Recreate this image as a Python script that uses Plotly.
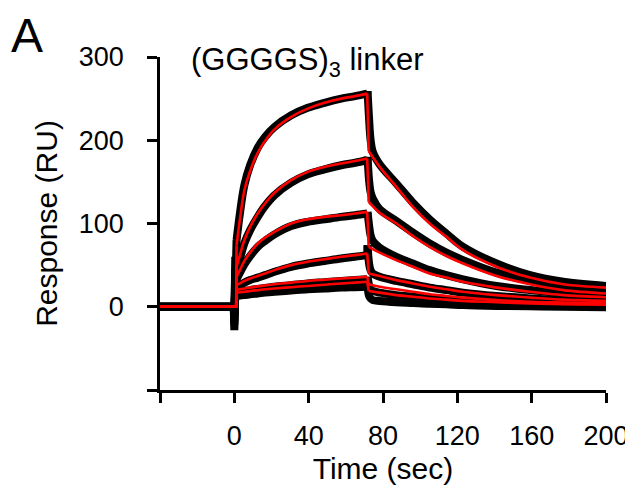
import plotly.graph_objects as go

# ---------------- data ----------------
ASSOC_T = [1.2, 3, 5.4, 8.5, 12.6, 16.5, 21.6, 30.6, 39.5, 48.5, 57.5, 65, 71.5]
FIT_DISS_T = [72.3, 78.2, 87.2, 96.1, 105.1, 114.1, 123.1, 141.1, 159.1, 177, 200]
DATA_DISS_T = [71.7, 72.5, 73.3, 74.5, 78.2, 87.2, 96.1, 105.1, 114.1, 123.1, 141.1, 159.1, 177, 200]

# red fitted curves
fit_assoc = {
    "c1": [74, 105, 140, 163, 185, 199, 213, 228, 238, 245, 250, 253, 256],
    "c2": [48, 62, 80, 96, 112, 124, 137, 152, 162, 168, 172, 175, 178],
    "c3": [36, 44, 55, 65, 76, 83, 90, 100, 105, 108, 110, 112, 114],
    "c4": [26, 28, 31, 34, 37, 40, 44, 50, 54, 57, 60, 62, 64],
    "c5": [20, 21, 22, 23, 24.5, 25.5, 27, 29, 31, 32.5, 34, 35, 36],
    "c6": [17, 17.5, 18, 19, 20, 21, 22, 23.5, 25, 26.5, 28, 29, 30],
}
fit_diss = {
    "c1": [187, 168, 144, 120, 100, 84, 68, 48, 35, 27, 23],
    "c2": [126, 113, 100, 85, 72, 61, 52, 37, 27, 20, 16],
    "c3": [72, 65, 56, 48, 40, 35, 30, 23, 18, 14, 11.5],
    "c4": [40, 37, 32, 28, 24, 21, 18, 14, 11, 8.5, 7],
    "c5": [27, 24, 21, 18, 15, 13, 11, 8, 6, 5, 4],
    "c6": [19, 17, 14, 12, 10, 8.5, 7, 5.5, 4, 3, 2.5],
}

# black measured sensorgrams
data_spike = {  # injection artefact at t = 0: (low, high)
    "c1": [-28, 76], "c2": [-22, 60], "c3": [-18, 45],
    "c4": [-12, 30], "c5": [-10, 24], "c6": [-8, 20],
}
data_assoc = {
    "c1": [80, 112, 146, 170, 191, 204, 216, 230, 239, 245, 250, 253, 256],
    "c2": [45, 58, 76, 92, 108, 121, 134, 149, 159, 165, 170, 173, 176],
    "c3": [33, 41, 51, 61, 72, 79, 87, 97, 102, 105, 108, 110, 112],
    "c4": [24, 26, 29, 32, 35, 38, 42, 48, 52, 55, 58, 60, 62],
    "c5": [17, 18, 19, 20, 21.5, 22.5, 24, 26, 28, 29.5, 31, 32, 33],
    "c6": [13, 13.5, 14, 15, 16, 17, 18, 19.5, 21, 22, 23, 23.5, 24],
}
data_diss = {
    "c1": [259, 226, 201, 186, 171, 148, 125, 105, 88, 72, 52, 38, 30, 25],
    "c2": [180, 152, 138, 130, 117, 103, 89, 76, 65, 56, 41, 31, 24, 19],
    "c3": [114, 98, 86, 79, 71, 60, 52, 44, 38, 33, 25, 20, 16, 13],
    "c4": [74, 52, 44, 40, 36, 31, 27, 23, 20, 17, 13, 10, 8, 6],
    "c5": [36, 26, 21, 19, 17, 14, 12, 10, 8.5, 7, 5, 4, 3, 2],
    "c6": [24, 13, 10, 8, 7, 5.5, 4.5, 3.5, 3, 2, 1, 0.5, 0, -0.5],
}

X_TICKS = [0, 40, 80, 120, 160, 200]
X_MINOR_TICKS = [-40]          # unlabelled tick at the left end
Y_TICKS = [0, 100, 200, 300]
Y_MINOR_TICKS = [-100]         # unlabelled tick at the bottom end

CURVES = ["c1", "c2", "c3", "c4", "c5", "c6"]

# ---------------- figure ----------------
fig = go.Figure()
BLACK = dict(color="black", width=8)
RED = dict(color="#ff0000", width=2.6)


def seg(x, y, line, shape="linear"):
    fig.add_trace(go.Scatter(x=x, y=y, mode="lines",
                             line=dict(**line, shape=shape),
                             showlegend=False, hoverinfo="skip", cliponaxis=False))


# measured data (black, drawn underneath)
for c in CURVES:
    lo, hi = data_spike[c]
    seg([-40, -0.3, 0, 0.5, ASSOC_T[0]], [0, 0, lo, hi, data_assoc[c][0]], BLACK)
    seg(ASSOC_T, data_assoc[c], BLACK, "spline")
    seg([ASSOC_T[-1], DATA_DISS_T[0]], [data_assoc[c][-1], data_diss[c][0]], BLACK)
    seg(DATA_DISS_T, data_diss[c], BLACK, "spline")

# fitted curves (red, on top)
for c in CURVES:
    seg([-40, 1.0, ASSOC_T[0]], [0, 0, fit_assoc[c][0]], RED)
    seg(ASSOC_T, fit_assoc[c], RED, "spline")
    seg([ASSOC_T[-1], FIT_DISS_T[0]], [fit_assoc[c][-1], fit_diss[c][0]], RED)
    seg(FIT_DISS_T, fit_diss[c], RED, "spline")

FONT = "Arial, 'Liberation Sans', sans-serif"
TICKSTYLE = dict(ticks="outside", ticklen=10, tickwidth=2.5, tickcolor="black")

# the page adds an 8px body margin, so margins are reduced by 8 on left/top
fig.update_layout(
    width=633, height=496,
    margin=dict(l=152, r=35, t=49, b=114),
    paper_bgcolor="white", plot_bgcolor="white",
    font=dict(family=FONT, color="black", size=27),
    showlegend=False,
    xaxis=dict(
        range=[-40, 200], tickmode="array", tickvals=X_TICKS,
        **TICKSTYLE,
        minor=dict(tickmode="array", tickvals=X_MINOR_TICKS, **TICKSTYLE, showgrid=False),
        showline=True, linecolor="black", linewidth=2.5,
        showgrid=False, zeroline=False, ticklabelstandoff=10, automargin=False,
        tickfont=dict(size=27),
        title=dict(text="Time (sec)", font=dict(size=30), standoff=8),
    ),
    yaxis=dict(
        range=[-100, 300], tickmode="array", tickvals=Y_TICKS,
        **TICKSTYLE,
        minor=dict(tickmode="array", tickvals=Y_MINOR_TICKS, **TICKSTYLE, showgrid=False),
        showline=True, linecolor="black", linewidth=2.5,
        showgrid=False, zeroline=False, ticklabelstandoff=18, automargin=False,
        tickfont=dict(size=27),
        title=dict(text="Response (RU)", font=dict(size=30), standoff=13),
    ),
    annotations=[
        dict(text="A", xref="paper", yref="paper", x=(27 - 160) / 446, y=1 + 49 / 333,
             xanchor="center", yanchor="top", showarrow=False, font=dict(size=48),
             borderpad=0),
        dict(text="(GGGGS)<sub>3</sub> linker", xref="paper", yref="paper",
             x=(189 - 160) / 446, y=(390 - 62) / 333, xanchor="left", yanchor="middle",
             showarrow=False, font=dict(size=31)),
    ],
)

fig.write_html("out.html")
